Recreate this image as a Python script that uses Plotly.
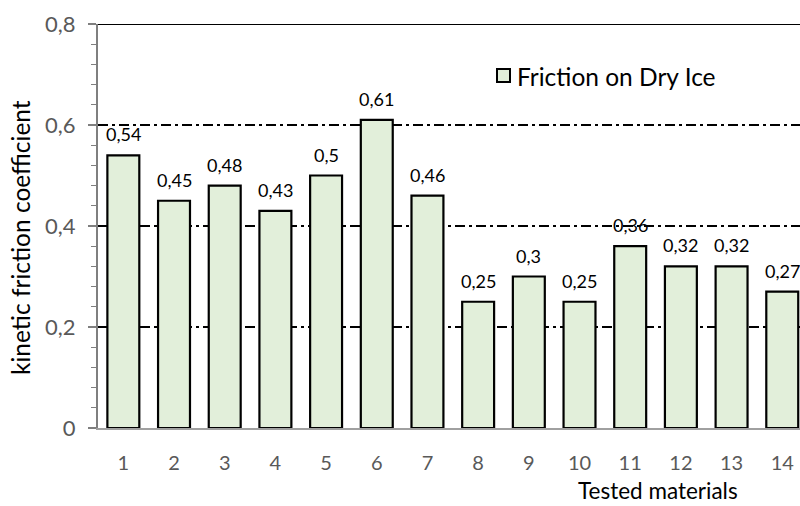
import plotly.graph_objects as go

# Kinetic friction coefficient of each tested material on dry ice
materials = ["1", "2", "3", "4", "5", "6", "7", "8", "9", "10", "11", "12", "13", "14"]
friction = [0.54, 0.45, 0.48, 0.43, 0.50, 0.61, 0.46, 0.25, 0.30, 0.25, 0.36, 0.32, 0.32, 0.27]
y_ticks = [0, 0.2, 0.4, 0.6, 0.8]
y_tick_labels = ["0", "0,2", "0,4", "0,6", "0,8"]

FONT = "Lato"
BAR_FILL = "#E2EFDA"
x_pos = list(range(1, len(materials) + 1))

# plot-area geometry in pixels
L, R, T, B = 98, 800, 24, 428
W, H = R - L, B - T


def px_x(px):
    return (px - L) / W


def px_y(py):
    return (B - py) / H


fig = go.Figure()
fig.add_trace(go.Bar(
    x=x_pos,
    y=friction,
    name="Friction on Dry Ice",
    marker=dict(color=BAR_FILL, line=dict(color="black", width=2.2)),
    showlegend=False,
))

# value labels above each bar
for xv, yv in zip(x_pos, friction):
    fig.add_annotation(x=xv, y=yv, text=f"{yv:g}".replace(".", ","),
                       showarrow=False, yanchor="middle", yshift=21,
                       font=dict(family=FONT, size=18, color="black"))

# solid line along the top of the plot area
fig.add_shape(type="line", xref="paper", yref="y", x0=0, x1=1, y0=0.8, y1=0.8,
              line=dict(color="black", width=2.2))

# legend drawn as a marker square plus label
fig.add_shape(type="rect", xref="paper", yref="paper",
              x0=px_x(497), x1=px_x(510), y0=px_y(82), y1=px_y(69),
              fillcolor=BAR_FILL, line=dict(color="black", width=2))
fig.add_annotation(xref="paper", yref="paper",
                   x=px_x(515), y=px_y(76),
                   text="Friction on Dry Ice", showarrow=False,
                   xanchor="left", yanchor="middle",
                   font=dict(family=FONT, size=24.5, color="black"))

# axis titles
fig.add_annotation(xref="paper", yref="paper",
                   x=px_x(658), y=px_y(505),
                   text="Tested materials", showarrow=False,
                   xanchor="center", yanchor="bottom", borderpad=0,
                   font=dict(family=FONT, size=22.5, color="black"))
fig.add_annotation(xref="paper", yref="paper",
                   x=px_x(20), y=px_y(238),
                   text="kinetic friction coefficient", showarrow=False, textangle=-90,
                   xanchor="center", yanchor="middle",
                   font=dict(family=FONT, size=24.5, color="black"))

fig.update_layout(
    width=800, height=506,
    margin=dict(l=L, r=800 - R, t=T, b=506 - B),
    paper_bgcolor="white", plot_bgcolor="white",
    separators=",.",
    bargap=0.37,
    font=dict(family=FONT),
    xaxis=dict(
        range=[0.5, 14.35],
        tickmode="array", tickvals=x_pos, ticktext=materials,
        showline=True, linecolor="#a0a0a0", linewidth=2,
        ticks="", showgrid=False, zeroline=False,
        tickfont=dict(family=FONT, size=20, color="#595959"),
        ticklabelstandoff=16,
    ),
    yaxis=dict(
        range=[0, 0.8],
        tickmode="array", tickvals=y_ticks, ticktext=y_tick_labels,
        showline=True, linecolor="#7f7f7f", linewidth=2,
        ticks="outside", ticklen=8, tickwidth=1.5, tickcolor="#7f7f7f",
        minor=dict(dtick=0.04, tick0=0, ticks="outside", ticklen=5,
                   tickwidth=1, tickcolor="#7f7f7f", showgrid=False),
        showgrid=True, gridcolor="black", gridwidth=1.6,
        griddash="10px,4px,3px,4px",
        zeroline=False,
        tickfont=dict(family=FONT, size=22, color="#595959"),
        ticklabelstandoff=8,
    ),
)

fig.write_html("out.html")
